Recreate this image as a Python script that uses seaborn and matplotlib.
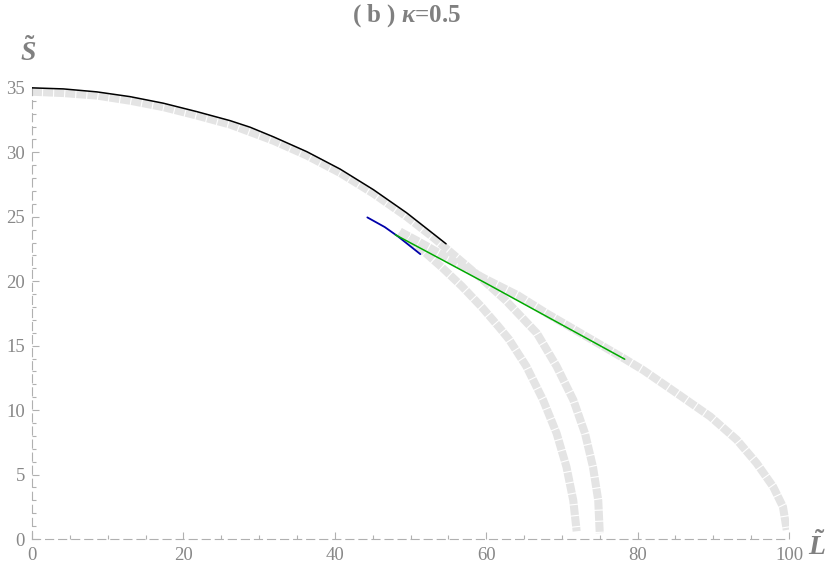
import numpy as np
import pandas as pd
import seaborn as sns
import matplotlib
matplotlib.use('Agg')
import matplotlib.pyplot as plt
from matplotlib.ticker import MultipleLocator

# gray reference curves
outer_L = [0, 4.1, 8.6, 13.0, 17.4, 21.8, 26.2, 31.9, 36.3, 40.7, 45.1, 49.5,
           53.2, 56.3, 59.2, 62.6, 66.7, 69.3, 71.5, 73.05, 74.1, 74.8, 75.0]
outer_S = [34.7, 34.6, 34.4, 34.0, 33.5, 32.85, 32.15, 30.9, 29.75, 28.4, 26.8, 25.0,
           23.3, 21.75, 20.3, 18.5, 15.96, 13.4, 10.8, 8.2, 5.6, 3.0, 0.45]

inner_L = [48.6, 51.0, 54.1, 56.8, 59.4, 61.6, 63.0, 65.3, 67.5, 69.3, 70.6, 71.5, 71.95]
inner_S = [23.85, 22.7, 21.1, 19.6, 18.0, 16.5, 15.5, 13.4, 10.8, 8.2, 5.6, 3.0, 0.6]

long_L = [48.6, 51.0, 55.4, 59.8, 64.2, 68.0, 78.3, 80.75, 85.2, 89.6, 93.1, 95.7, 97.9, 99.2, 99.7]
long_S = [23.85, 23.1, 21.65, 20.2, 18.9, 17.5, 13.97, 13.1, 11.3, 9.5, 7.7, 5.9, 4.06, 2.5, 0.7]

# approximations
black_L = [0, 4.13, 8.55, 12.95, 17.35, 21.75, 26.15, 28.8, 31.9, 36.3, 40.7, 45.1, 49.5, 52.1, 54.7]
black_S = [35.0, 34.92, 34.69, 34.32, 33.81, 33.16, 32.46, 31.95, 31.2, 30.05, 28.7, 27.1, 25.3, 24.1, 22.9]

blue_L = [44.3, 46.6, 48.4, 51.3]
blue_S = [24.95, 24.2, 23.45, 22.1]

green_L = [48.0, 60.1, 78.3]
green_S = [23.6, 19.8, 13.95]

sns.set_style("white")
plt.rcParams['font.family'] = ['Liberation Serif', 'DejaVu Serif']
plt.rcParams['lines.scale_dashes'] = False
plt.rcParams['mathtext.fontset'] = 'custom'
plt.rcParams['mathtext.rm'] = 'Liberation Serif:bold'
plt.rcParams['mathtext.it'] = 'Liberation Serif:italic:bold'
plt.rcParams['mathtext.bf'] = 'Liberation Serif:bold'

fig = plt.figure(figsize=(8.3, 5.69), dpi=100)
ax = fig.add_axes([32/830, 30/569, 757/830, 455/569])

gray = '#e4e4e4'
for L, S in [(outer_L, outer_S), (inner_L, inner_S), (long_L, long_S)]:
    sns.lineplot(x=L, y=S, sort=False, estimator=None, ax=ax, color=gray,
                 lw=5.8, linestyle=(0, (7.2, 0.8)), dash_capstyle='butt',
                 dash_joinstyle='round', zorder=1)

sns.lineplot(x=black_L, y=black_S, sort=False, estimator=None, ax=ax, color='black', lw=1.1, zorder=3)
sns.lineplot(x=blue_L, y=blue_S, sort=False, estimator=None, ax=ax, color='#0000aa', lw=1.3, zorder=3)
sns.lineplot(x=green_L, y=green_S, sort=False, estimator=None, ax=ax, color='#00aa00', lw=1.1, zorder=3)

ax.set_xlim(0, 100)
ax.set_ylim(0, 35.3)
ax.xaxis.set_major_locator(MultipleLocator(20))
ax.xaxis.set_minor_locator(MultipleLocator(5))
ax.yaxis.set_major_locator(MultipleLocator(5))
ax.yaxis.set_minor_locator(MultipleLocator(1))

axis_col = '#b0b0b0'
for side in ['top', 'right']:
    ax.spines[side].set_visible(False)
for side in ['left', 'bottom']:
    ax.spines[side].set_color(axis_col)
    ax.spines[side].set_linewidth(0.8)
    ax.spines[side].set_linestyle((0, (5.8, 3.6)))

ax.tick_params(which='both', bottom=True, left=True, top=False, right=False)
ax.tick_params(which='major', direction='in', length=5, width=0.8, color=axis_col,
               labelcolor='#888888', labelsize=13.5)
ax.tick_params(which='minor', direction='in', length=3, width=0.8, color=axis_col)
ax.tick_params(axis='y', pad=5)
ax.tick_params(axis='x', pad=6)

fig.text(407/830, 1 - 16/569, r'( b ) $\kappa$=0.5', ha='center', va='center',
         fontsize=18, fontweight='bold', color='#808080')
fig.text(28/830, 1 - 52/569, r'$\tilde{S}$', ha='center', va='center', fontsize=20, color='#808080')
fig.text(817/830, 1 - 546/569, r'$\tilde{L}$', ha='center', va='center', fontsize=20, color='#808080')

fig.savefig('out.png', dpi=100)
plt.close(fig)
